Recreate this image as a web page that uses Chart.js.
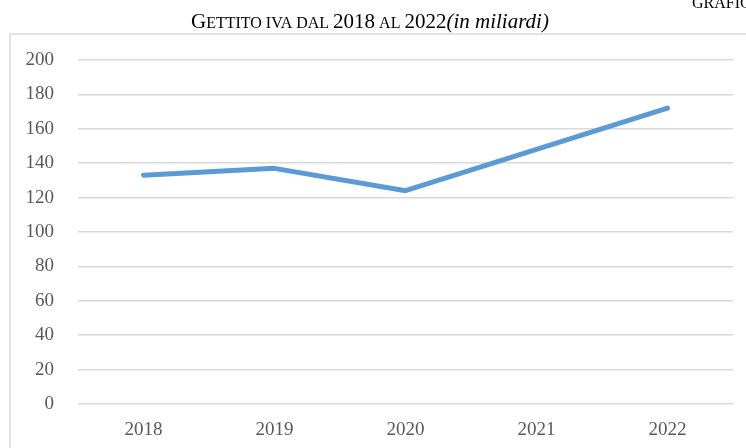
<!DOCTYPE html>
<html><head><meta charset="utf-8">
<script src="https://cdn.jsdelivr.net/npm/chart.js@4/dist/chart.umd.min.js"></script>
<style>html,body{margin:0;padding:0;background:#fff}#wrap{width:746px;height:448px;position:relative}</style>
</head><body><div id="wrap"><canvas id="c" width="746" height="448"></canvas></div>
<script>
const categories = ['2018','2019','2020','2021','2022'];
const gettito = [133, 137, 124, 148, 172];
const yTicks = [0,20,40,60,80,100,120,140,160,180,200];

const SERIF = '"Liberation Serif", "Times New Roman", serif';

const decor = {
  id: 'decor',
  beforeDraw(chart) {
    const ctx = chart.ctx;
    ctx.save();
    ctx.fillStyle = '#fff';
    ctx.fillRect(0,0,chart.width,chart.height);
    ctx.strokeStyle = '#d9d9d9';
    ctx.lineWidth = 1.5;
    ctx.beginPath();
    ctx.moveTo(10, 460); ctx.lineTo(10, 34); ctx.lineTo(760, 34);
    ctx.stroke();
    // title with small caps
    const segs = [
      ['G', '21px ' + SERIF],
      ['ETTITO IVA DAL ', '16px ' + SERIF],
      ['2018', '21px ' + SERIF],
      [' AL ', '16px ' + SERIF],
      ['2022', '21px ' + SERIF],
      ['(in miliardi)', 'italic 21px ' + SERIF]
    ];
    ctx.fillStyle = '#000';
    ctx.textBaseline = 'alphabetic';
    ctx.textAlign = 'left';
    let x = 191;
    for (const [t, f] of segs) {
      ctx.font = f;
      ctx.fillText(t, x, 28);
      x += ctx.measureText(t).width;
    }
    ctx.font = '16px ' + SERIF;
    ctx.fillText('GRAFICO', 692, 8);
    ctx.restore();
  }
};

new Chart(document.getElementById('c'), {
  type: 'line',
  data: {
    labels: categories,
    datasets: [{
      data: gettito,
      borderColor: '#5b9bd5',
      borderWidth: 5,
      borderCapStyle: 'round',
      borderJoinStyle: 'round',
      pointRadius: 0,
      tension: 0,
      fill: false
    }]
  },
  options: {
    responsive: false,
    animation: false,
    layout: { padding: { top: 60, right: 13, bottom: 0, left: 0 } },
    plugins: { legend: { display: false }, title: { display: false }, tooltip: { enabled: false } },
    scales: {
      x: {
        offset: true,
        grid: { display: false, drawTicks: false },
        border: { display: false },
        ticks: { color: '#595959', font: { family: SERIF, size: 19 }, padding: 15, maxRotation: 0 },
        afterFit(s) { s.height = 44; }
      },
      y: {
        min: 0, max: 200,
        afterBuildTicks(s) { s.ticks = yTicks.map(v => ({ value: v })); },
        grid: { color: '#d9d9d9', lineWidth: 1.5, drawTicks: false },
        border: { display: false },
        ticks: { color: '#595959', font: { family: SERIF, size: 19 }, padding: 24 },
        afterFit(s) { s.width = 78; }
      }
    }
  },
  plugins: [decor]
});
</script></body></html>
